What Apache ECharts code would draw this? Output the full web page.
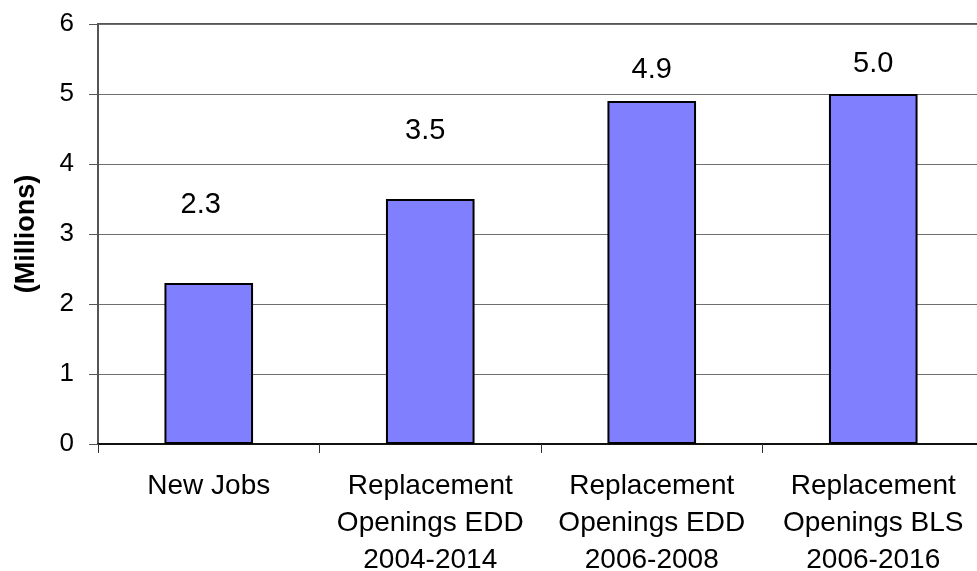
<!DOCTYPE html>
<html>
<head>
<meta charset="utf-8">
<script src="https://cdn.jsdelivr.net/npm/echarts@6/dist/echarts.min.js"></script>
<style>
  html, body { margin: 0; padding: 0; background: #fff; }
  #chart { width: 977px; height: 571px; }
</style>
</head>
<body>
<div id="chart"></div>
<script>
// Job openings by source, in millions
const categories = [
  'New Jobs',
  'Replacement\nOpenings EDD\n2004-2014',
  'Replacement\nOpenings EDD\n2006-2008',
  'Replacement\nOpenings BLS\n2006-2016'
];
const openings = [2.3, 3.5, 4.9, 5.0];
const yTicks = [0, 1, 2, 3, 4, 5, 6];

// Hand-placed value labels: [dx, dy] shift from the top of each bar
const labelShift = [[-8, -64], [-5, -54], [0, -17], [0, -16]];

const FONT = '"Liberation Sans", Arial, Helvetica, sans-serif';

const chart = echarts.init(document.getElementById('chart'), null, { renderer: 'canvas' });

chart.setOption({
  animation: false,
  backgroundColor: '#ffffff',
  grid: {
    left: 98,
    top: 24,
    right: -7,
    bottom: 127,
    containLabel: false,
    outerBoundsMode: 'none',
    show: true,
    borderColor: '#555555',
    borderWidth: 2,
    backgroundColor: 'transparent'
  },
  xAxis: {
    type: 'category',
    data: categories,
    boundaryGap: true,
    axisLine: { show: true, lineStyle: { color: '#111111', width: 2 } },
    axisTick: { show: true, length: 9, interval: 0, lineStyle: { color: '#333333', width: 1 } },
    axisLabel: {
      interval: 0,
      margin: 24,
      color: '#000000',
      fontFamily: FONT,
      fontSize: 28,
      lineHeight: 37
    },
    splitLine: { show: false }
  },
  yAxis: {
    type: 'value',
    min: yTicks[0],
    max: yTicks[yTicks.length - 1],
    interval: 1,
    name: '(Millions)',
    nameLocation: 'middle',
    nameGap: 58,
    nameRotate: 90,
    nameTextStyle: {
      color: '#000000',
      fontFamily: FONT,
      fontWeight: 'bold',
      fontSize: 27
    },
    axisLine: { show: true, lineStyle: { color: '#555555', width: 2 } },
    axisTick: { show: true, length: 9, lineStyle: { color: '#555555', width: 1 } },
    axisLabel: {
      margin: 24,
      color: '#000000',
      fontFamily: FONT,
      fontSize: 26,
      formatter: v => String(v)
    },
    splitLine: { show: true, lineStyle: { color: '#6f6f6f', width: 1 } }
  },
  series: [{
    type: 'bar',
    barWidth: '40%',
    data: openings.map((v, i) => ({
      value: v,
      label: { offset: labelShift[i] }
    })),
    itemStyle: {
      color: '#8080ff',
      borderColor: '#000000',
      borderWidth: 2
    },
    label: {
      show: true,
      position: 'top',
      distance: 0,
      color: '#000000',
      fontFamily: FONT,
      fontSize: 29,
      formatter: p => p.value.toFixed(1)
    }
  }]
});
</script>
</body>
</html>
